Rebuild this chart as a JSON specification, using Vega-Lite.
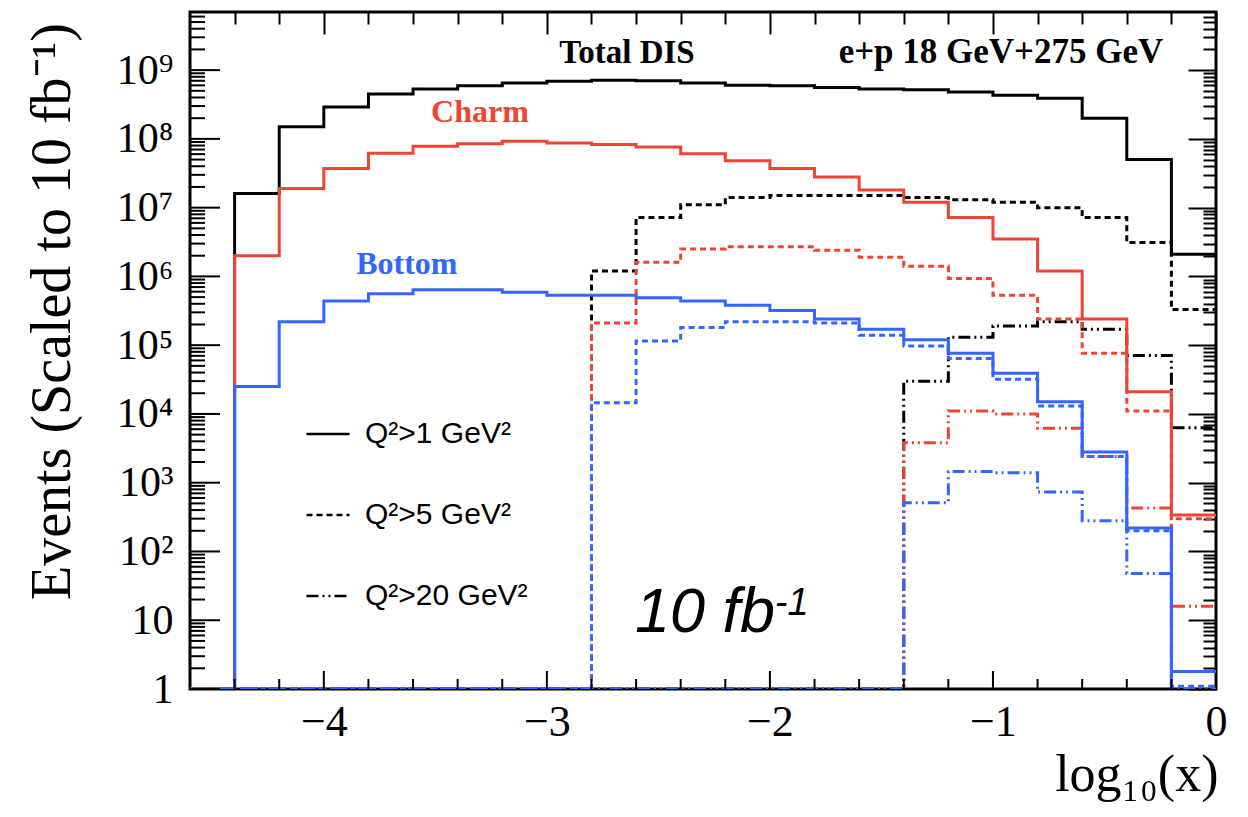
{
  "$schema": "https://vega.github.io/schema/vega-lite/v6.json",
  "width": 1026,
  "height": 677,
  "autosize": {"type": "none"},
  "padding": {"left": 190, "top": 12, "right": 32, "bottom": 128},
  "background": "white",
  "config": {
    "view": {"stroke": "black", "strokeWidth": 3},
    "axis": {"grid": false, "domain": false, "labelColor": "black", "titleColor": "black", "tickColor": "black", "zindex": 1},
    "font": "Liberation Serif"
  },
  "resolve": {"axis": {"x": "independent", "y": "independent"}},
  "layer": [
    {
      "data": {
        "values": [
          {"flavor": "Total", "cut": "Q²>1 GeV²", "x": [-4.6,-4.4,-4.2,-4.0,-3.8,-3.6,-3.4,-3.2,-3.0,-2.8,-2.6,-2.4,-2.2,-2.0,-1.8,-1.6,-1.4,-1.2,-1.0,-0.8,-0.6,-0.4,-0.2,0], "y": [1,1.6e7,1.5e8,2.9e8,4.5e8,5.3e8,5.9e8,6.5e8,6.9e8,7.1e8,7.0e8,6.5e8,6.0e8,5.9e8,5.6e8,5.3e8,5.2e8,4.8e8,4.3e8,3.9e8,2.0e8,5.0e7,2.1e6,2.1e6]},
          {"flavor": "Total", "cut": "Q²>5 GeV²", "x": [-4.6,-4.4,-4.2,-4.0,-3.8,-3.6,-3.4,-3.2,-3.0,-2.8,-2.6,-2.4,-2.2,-2.0,-1.8,-1.6,-1.4,-1.2,-1.0,-0.8,-0.6,-0.4,-0.2,0], "y": [1,1,1,1,1,1,1,1,1,1.2e6,7.2e6,1.1e7,1.4e7,1.5e7,1.5e7,1.5e7,1.4e7,1.3e7,1.2e7,1.0e7,7.2e6,3.1e6,3.3e5,3.3e5]},
          {"flavor": "Total", "cut": "Q²>20 GeV²", "x": [-4.6,-4.4,-4.2,-4.0,-3.8,-3.6,-3.4,-3.2,-3.0,-2.8,-2.6,-2.4,-2.2,-2.0,-1.8,-1.6,-1.4,-1.2,-1.0,-0.8,-0.6,-0.4,-0.2,0], "y": [1,1,1,1,1,1,1,1,1,1,1,1,1,1,1,1,3.0e4,1.3e5,1.9e5,2.2e5,1.7e5,7.1e4,6.3e3,6.3e3]},
          {"flavor": "Charm", "cut": "Q²>1 GeV²", "x": [-4.6,-4.4,-4.2,-4.0,-3.8,-3.6,-3.4,-3.2,-3.0,-2.8,-2.6,-2.4,-2.2,-2.0,-1.8,-1.6,-1.4,-1.2,-1.0,-0.8,-0.6,-0.4,-0.2,0], "y": [1,2.0e6,1.9e7,3.7e7,6.2e7,7.8e7,8.5e7,9.2e7,8.7e7,8.3e7,7.6e7,6.1e7,4.8e7,3.7e7,2.8e7,1.8e7,1.2e7,7.2e6,3.5e6,1.2e6,2.4e5,2.1e4,340,340]},
          {"flavor": "Charm", "cut": "Q²>5 GeV²", "x": [-4.6,-4.4,-4.2,-4.0,-3.8,-3.6,-3.4,-3.2,-3.0,-2.8,-2.6,-2.4,-2.2,-2.0,-1.8,-1.6,-1.4,-1.2,-1.0,-0.8,-0.6,-0.4,-0.2,0], "y": [1,1,1,1,1,1,1,1,1,2.1e5,1.6e6,2.5e6,2.7e6,2.7e6,2.4e6,1.9e6,1.4e6,9.3e5,5.3e5,2.4e5,7.6e4,1.1e4,300,300]},
          {"flavor": "Charm", "cut": "Q²>20 GeV²", "x": [-4.6,-4.4,-4.2,-4.0,-3.8,-3.6,-3.4,-3.2,-3.0,-2.8,-2.6,-2.4,-2.2,-2.0,-1.8,-1.6,-1.4,-1.2,-1.0,-0.8,-0.6,-0.4,-0.2,0], "y": [1,1,1,1,1,1,1,1,1,1,1,1,1,1,1,1,3.8e3,1.1e4,1.0e4,6.2e3,2.4e3,430,16,16]},
          {"flavor": "Bottom", "cut": "Q²>1 GeV²", "x": [-4.6,-4.4,-4.2,-4.0,-3.8,-3.6,-3.4,-3.2,-3.0,-2.8,-2.6,-2.4,-2.2,-2.0,-1.8,-1.6,-1.4,-1.2,-1.0,-0.8,-0.6,-0.4,-0.2,0], "y": [1,2.5e4,2.2e5,4.4e5,5.6e5,6.4e5,6.4e5,5.9e5,5.3e5,5.3e5,4.9e5,4.4e5,3.8e5,3.2e5,2.4e5,1.7e5,1.2e5,7.6e4,3.9e4,1.5e4,2.8e3,220,1.8,1.8]},
          {"flavor": "Bottom", "cut": "Q²>5 GeV²", "x": [-4.6,-4.4,-4.2,-4.0,-3.8,-3.6,-3.4,-3.2,-3.0,-2.8,-2.6,-2.4,-2.2,-2.0,-1.8,-1.6,-1.4,-1.2,-1.0,-0.8,-0.6,-0.4,-0.2,0], "y": [1,1,1,1,1,1,1,1,1,1.45e4,1.15e5,1.8e5,2.2e5,2.2e5,2.1e5,1.4e5,9.7e4,6.4e4,3.2e4,1.3e4,2.4e3,200,1.1,1.1]},
          {"flavor": "Bottom", "cut": "Q²>20 GeV²", "x": [-4.6,-4.4,-4.2,-4.0,-3.8,-3.6,-3.4,-3.2,-3.0,-2.8,-2.6,-2.4,-2.2,-2.0,-1.8,-1.6,-1.4,-1.2,-1.0,-0.8,-0.6,-0.4,-0.2,0], "y": [1,1,1,1,1,1,1,1,1,1,1,1,1,1,1,1,510,1450,1400,730,280,48,1,1]}
        ]
      },
      "transform": [{"flatten": ["x", "y"]}],
      "mark": {"type": "line", "interpolate": "step-after", "strokeWidth": 3, "clip": true},
      "encoding": {
        "x": {
          "field": "x", "type": "quantitative",
          "scale": {"domain": [-4.6, 0], "nice": false, "zero": false},
          "axis": {
            "orient": "bottom", "values": [-4, -3, -2, -1, 0], "ticks": false,
            "labelExpr": "datum.value == 0 ? '0' : '−' + abs(round(datum.value))",
            "labelFont": "Liberation Serif", "labelFontSize": 44, "labelPadding": 11,
            "labelFlush": false, "labelOverlap": false, "labelBound": false,
            "title": "log₁₀(x)", "titleFont": "Liberation Serif", "titleFontSize": 52, "titleFontWeight": "normal",
            "titleAlign": "right", "titleBaseline": "alphabetic", "titleX": 1028, "titleY": 101
          }
        },
        "y": {
          "field": "y", "type": "quantitative",
          "scale": {"type": "log", "domain": [1, 7e9], "nice": false},
          "axis": {
            "orient": "left", "values": [1, 10, 100, 1000, 10000, 100000, 1000000, 10000000, 100000000, 1000000000], "ticks": false,
            "labelExpr": "datum.value < 2 ? '1' : datum.value < 20 ? '10' : '10' + ['⁰','¹','²','³','⁴','⁵','⁶','⁷','⁸','⁹'][round(log(datum.value)/LN10)]",
            "labelFont": "Liberation Serif", "labelFontSize": 42, "labelPadding": 17, "labelOverlap": false, "labelBound": false, "labelFlush": false,
            "title": "Events (Scaled to 10 fb⁻¹)", "titleFont": "Liberation Serif", "titleFontSize": 56, "titleFontWeight": "normal",
            "titleAngle": -90, "titleAlign": "center", "titleBaseline": "middle", "titleX": -138, "titleY": 299
          }
        },
        "color": {
          "field": "flavor", "type": "nominal",
          "scale": {"domain": ["Total", "Charm", "Bottom"], "range": ["#000000", "#ee4433", "#3366ff"]},
          "legend": null
        },
        "strokeDash": {
          "field": "cut", "type": "nominal",
          "scale": {"domain": ["Q²>1 GeV²", "Q²>5 GeV²", "Q²>20 GeV²"], "range": [[1, 0], [6, 4], [12, 4, 2, 4, 2, 4]]},
          "legend": {
            "orient": "none", "legendX": 115, "legendY": 399, "title": null, "padding": 0,
            "symbolType": "stroke", "symbolSize": 1849, "symbolStrokeWidth": 2.5, "symbolStrokeColor": "black",
            "labelFont": "Liberation Sans", "labelFontSize": 30, "labelColor": "black", "labelOffset": 14, "labelLimit": 400,
            "rowPadding": 43
          }
        }
      }
    },
    {
      "data": {"values": [
        {"t": "Total DIS", "x": -2.641, "y": 1.26e9}
      ]},
      "mark": {"type": "text", "font": "Liberation Serif", "fontWeight": "bold", "fontSize": 33, "align": "center", "baseline": "alphabetic", "color": "black"},
      "encoding": {
        "x": {"field": "x", "type": "quantitative", "scale": {"domain": [-4.6, 0], "nice": false, "zero": false}, "axis": null},
        "y": {"field": "y", "type": "quantitative", "scale": {"type": "log", "domain": [1, 7e9], "nice": false}, "axis": null},
        "text": {"field": "t"}
      }
    },
    {
      "data": {"values": [
        {"t": "e+p 18 GeV+275 GeV", "x": -0.964, "y": 1.26e9}
      ]},
      "mark": {"type": "text", "font": "Liberation Serif", "fontWeight": "bold", "fontSize": 35, "align": "center", "baseline": "alphabetic", "color": "black"},
      "encoding": {
        "x": {"field": "x", "type": "quantitative", "scale": {"domain": [-4.6, 0], "nice": false, "zero": false}, "axis": null},
        "y": {"field": "y", "type": "quantitative", "scale": {"type": "log", "domain": [1, 7e9], "nice": false}, "axis": null},
        "text": {"field": "t"}
      }
    },
    {
      "data": {"values": [
        {"t": "Charm", "flavor": "Charm", "x": -3.300, "y": 1.76e8},
        {"t": "Bottom", "flavor": "Bottom", "x": -3.628, "y": 1.1e6}
      ]},
      "mark": {"type": "text", "font": "Liberation Serif", "fontWeight": "bold", "fontSize": 32, "align": "center", "baseline": "alphabetic"},
      "encoding": {
        "x": {"field": "x", "type": "quantitative", "scale": {"domain": [-4.6, 0], "nice": false, "zero": false}, "axis": null},
        "y": {"field": "y", "type": "quantitative", "scale": {"type": "log", "domain": [1, 7e9], "nice": false}, "axis": null},
        "color": {"field": "flavor", "type": "nominal", "scale": {"domain": ["Total", "Charm", "Bottom"], "range": ["#000000", "#ee4433", "#3366ff"]}, "legend": null},
        "text": {"field": "t"}
      }
    },
    {
      "data": {"values": [{"t": "10 fb", "x": -2.605, "y": 6.8}]},
      "mark": {"type": "text", "font": "Liberation Sans", "fontStyle": "italic", "fontSize": 63, "align": "left", "baseline": "alphabetic", "color": "black"},
      "encoding": {
        "x": {"field": "x", "type": "quantitative", "scale": {"domain": [-4.6, 0], "nice": false, "zero": false},
          "axis": {"orient": "top", "values": [-4, -3, -2, -1, 0], "labels": false, "title": null, "tickSize": -22, "tickWidth": 2}},
        "y": {"field": "y", "type": "quantitative", "scale": {"type": "log", "domain": [1, 7e9], "nice": false},
          "axis": {"orient": "right", "values": [1, 10, 100, 1000, 10000, 100000, 1000000, 10000000, 100000000, 1000000000], "labels": false, "title": null, "tickSize": -28, "tickWidth": 2}},
        "text": {"field": "t"}
      }
    },
    {
      "data": {"values": [{"t": "-1", "x": -1.978, "y": 11.9}]},
      "mark": {"type": "text", "font": "Liberation Sans", "fontStyle": "italic", "fontSize": 38, "align": "left", "baseline": "alphabetic", "color": "black"},
      "encoding": {
        "x": {"field": "x", "type": "quantitative", "scale": {"domain": [-4.6, 0], "nice": false, "zero": false},
          "axis": {"orient": "top", "values": [-4.4,-4.2,-3.8,-3.6,-3.4,-3.2,-2.8,-2.6,-2.4,-2.2,-1.8,-1.6,-1.4,-1.2,-0.8,-0.6,-0.4,-0.2], "labels": false, "title": null, "tickSize": -12, "tickWidth": 2}},
        "y": {"field": "y", "type": "quantitative", "scale": {"type": "log", "domain": [1, 7e9], "nice": false},
          "axis": {"orient": "right", "values": [2,3,4,5,6,7,8,9,20,30,40,50,60,70,80,90,200,300,400,500,600,700,800,900,2e3,3e3,4e3,5e3,6e3,7e3,8e3,9e3,2e4,3e4,4e4,5e4,6e4,7e4,8e4,9e4,2e5,3e5,4e5,5e5,6e5,7e5,8e5,9e5,2e6,3e6,4e6,5e6,6e6,7e6,8e6,9e6,2e7,3e7,4e7,5e7,6e7,7e7,8e7,9e7,2e8,3e8,4e8,5e8,6e8,7e8,8e8,9e8,2e9,3e9,4e9,5e9,6e9], "labels": false, "title": null, "tickSize": -13, "tickWidth": 2}},
        "text": {"field": "t"}
      }
    },
    {
      "data": {"values": [
        {"v": [1, 10, 100, 1000, 10000, 100000, 1000000, 10000000, 100000000, 1000000000]}
      ]},
      "transform": [{"flatten": ["v"]}],
      "mark": {"type": "rule", "strokeWidth": 2, "color": "black"},
      "encoding": {
        "x": {"datum": -4.6, "type": "quantitative", "scale": {"domain": [-4.6, 0], "nice": false, "zero": false}, "axis": null},
        "x2": {"datum": -4.4655},
        "y": {"field": "v", "type": "quantitative", "scale": {"type": "log", "domain": [1, 7e9], "nice": false}, "axis": null}
      }
    },
    {
      "data": {"values": [
        {"v": [2,3,4,5,6,7,8,9,20,30,40,50,60,70,80,90,200,300,400,500,600,700,800,900,2e3,3e3,4e3,5e3,6e3,7e3,8e3,9e3,2e4,3e4,4e4,5e4,6e4,7e4,8e4,9e4,2e5,3e5,4e5,5e5,6e5,7e5,8e5,9e5,2e6,3e6,4e6,5e6,6e6,7e6,8e6,9e6,2e7,3e7,4e7,5e7,6e7,7e7,8e7,9e7,2e8,3e8,4e8,5e8,6e8,7e8,8e8,9e8,2e9,3e9,4e9,5e9,6e9]}
      ]},
      "transform": [{"flatten": ["v"]}],
      "mark": {"type": "rule", "strokeWidth": 2, "color": "black"},
      "encoding": {
        "x": {"datum": -4.6, "type": "quantitative", "scale": {"domain": [-4.6, 0], "nice": false, "zero": false}, "axis": null},
        "x2": {"datum": -4.5327},
        "y": {"field": "v", "type": "quantitative", "scale": {"type": "log", "domain": [1, 7e9], "nice": false}, "axis": null}
      }
    },
    {
      "data": {"values": [
        {"k": "major", "v": [-4, -3, -2, -1]},
        {"k": "minor", "v": [-4.4,-4.2,-3.8,-3.6,-3.4,-3.2,-2.8,-2.6,-2.4,-2.2,-1.8,-1.6,-1.4,-1.2,-0.8,-0.6,-0.4,-0.2]}
      ]},
      "transform": [{"flatten": ["v"]}],
      "mark": {"type": "tick", "orient": "vertical", "thickness": 2, "color": "black", "opacity": 1, "clip": true},
      "encoding": {
        "x": {"field": "v", "type": "quantitative", "scale": {"domain": [-4.6, 0], "nice": false, "zero": false}, "axis": null},
        "y": {"datum": 1, "type": "quantitative", "scale": {"type": "log", "domain": [1, 7e9], "nice": false}, "axis": null},
        "size": {"field": "k", "type": "ordinal", "scale": {"domain": ["major", "minor"], "range": [36, 20]}, "legend": null}
      }
    }
  ]
}
